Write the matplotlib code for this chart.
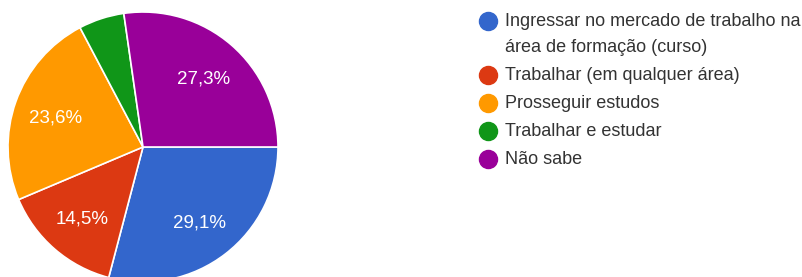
import matplotlib
matplotlib.use("Agg")
import matplotlib.pyplot as plt
from matplotlib.lines import Line2D

categories = ["Ingressar no mercado de trabalho na\nárea de formação (curso)",
              "Trabalhar (em qualquer área)",
              "Prosseguir estudos",
              "Trabalhar e estudar",
              "Não sabe"]
counts = [16, 8, 13, 3, 15]
colors = ["#3366CC", "#DC3912", "#FF9900", "#109618", "#990099"]

plt.rcParams['font.family'] = ['Liberation Sans', 'DejaVu Sans']

W, H = 803, 277
fig = plt.figure(figsize=(W / 100, H / 100), dpi=100)
cx, cy, r = 143, 147, 135
ax = fig.add_axes([(cx - r) / W, (H - cy - r) / H, 2 * r / W, 2 * r / H])


def fmt(p):
    return (f"{p:.1f}%".replace('.', ',')) if p >= 10 else ''


wedges, texts, autotexts = ax.pie(counts, colors=colors, startangle=0, counterclock=False,
                                  radius=1, autopct=fmt, pctdistance=0.69,
                                  wedgeprops=dict(edgecolor='white', linewidth=1.2),
                                  textprops=dict(color='white', fontsize=13.5))
for t in autotexts:
    t.set_va('center_baseline')
ax.set_xlim(-1, 1)
ax.set_ylim(-1, 1)
ax.axis('off')
for w in wedges:
    w.set_clip_on(False)

# legend
ys = [21, 75, 103, 131, 159]
line_gap = 26
for lab, col, y in zip(categories, colors, ys):
    fig.add_artist(Line2D([488 / W], [1 - y / H], marker='o', markersize=13,
                          color=col, linestyle='none', transform=fig.transFigure))
    lines = lab.split('\n')
    for i, ln in enumerate(lines):
        fig.text(505 / W, 1 - (y + i * line_gap) / H, ln, fontsize=13, color='#333333',
                 va='center', ha='left')

fig.savefig("out.png", dpi=100)
